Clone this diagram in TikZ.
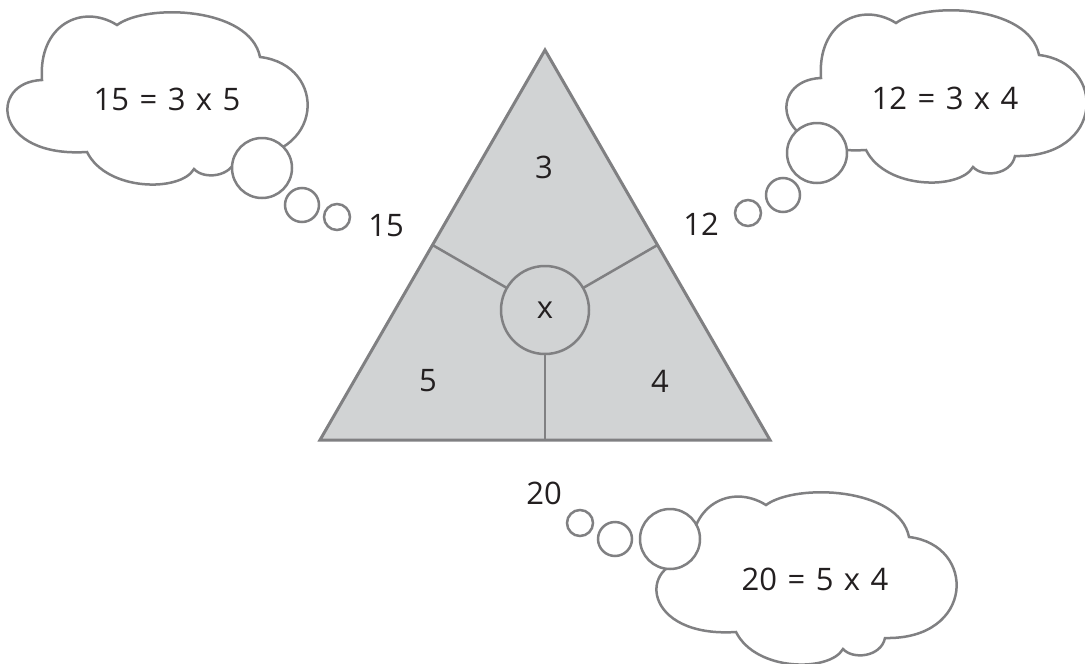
\documentclass[tikz,border=0pt]{standalone}
\usepackage{fontspec}
\setmainfont{Open Sans}[WordSpace=1.3]
\usepackage{tikz}
\usetikzlibrary{calc}
\usepackage{xcolor}
\definecolor{edgegray}{RGB}{128,128,130}
\definecolor{facegray}{RGB}{209,211,212}
\definecolor{inkgray}{RGB}{35,31,32}
\tikzset{
    tri-face/.style = {draw=edgegray, fill=facegray, line width=3pt, line join=miter},
    tri-split/.style = {draw=edgegray, line width=2.5pt},
    cloud-line/.style = {draw=edgegray, fill=white, line width=2.5pt},
    bubble/.style = {circle, draw=edgegray, fill=white, line width=2.5pt, inner sep=0pt},
    num-text/.style = {text=inkgray, font=\fontsize{31}{36}\selectfont, inner sep=0pt},
    pics/thought-cloud/.style = {code={
        \draw[cloud-line] (34,70) .. controls (30,15) and (74,-7) .. (109,15)
            .. controls (139,-7) and (242,-3) .. (252,47)
            .. controls (320,55) and (318,150) .. (228,148)
            .. controls (224,167) and (196,170) .. (186,159)
            .. controls (173,182) and (99,182) .. (79,142)
            .. controls (-15,148) and (-20,72) .. (34,70) -- cycle;
    }},
}

\begin{document}
\begin{tikzpicture}[x=1pt, y=-1pt]
\useasboundingbox (0,0) rectangle (1085,664);

% triangle with its three parts
\coordinate (top) at (545,50);
\coordinate (base-left) at (320,440);
\coordinate (base-right) at (770,440);
\draw[tri-face] (top) -- (base-right) -- (base-left) -- cycle;
\coordinate (mid-left) at ($(top)!0.5!(base-left)$);
\coordinate (mid-right) at ($(top)!0.5!(base-right)$);
\coordinate (mid-base) at ($(base-left)!0.5!(base-right)$);
\coordinate (centre) at (545,310);
\draw[tri-split] (mid-left) -- (centre);
\draw[tri-split] (mid-right) -- (centre);
\draw[tri-split] (mid-base) -- (centre);
\node[bubble, fill=facegray, minimum size=88pt, num-text] (hub) at (centre) {x};

\node[num-text] (f-top) at (544,167) {3};
\node[num-text] (f-left) at (428,381) {5};
\node[num-text] (f-right) at (660,381) {4};

% products on the sides
\node[num-text] (p-left) at (386,226) {15};
\node[num-text] (p-right) at (701,224) {12};
\node[num-text] (p-base) at (544,493) {20};

% thought clouds
\pic at (8,10) {thought-cloud};
\node[num-text] (c-left) at (167,99) {15 = 3 x 5};
\node[bubble, minimum size=60pt] (b-left-1) at (262,168) {};
\node[bubble, minimum size=34pt] (b-left-2) at (302,205) {};
\node[bubble, minimum size=26pt] (b-left-3) at (337,217) {};

\pic at (787,8) {thought-cloud};
\node[num-text] (c-right) at (945,98) {12 = 3 x 4};
\node[bubble, minimum size=60pt] (b-right-1) at (817,153) {};
\node[bubble, minimum size=34pt] (b-right-2) at (783,195) {};
\node[bubble, minimum size=26pt] (b-right-3) at (748,213) {};

\pic at (657,490) {thought-cloud};
\node[num-text] (c-base) at (815,579) {20 = 5 x 4};
\node[bubble, minimum size=60pt] (b-base-1) at (670,539) {};
\node[bubble, minimum size=34pt] (b-base-2) at (615,539) {};
\node[bubble, minimum size=26pt] (b-base-3) at (580,523) {};
\end{tikzpicture}
\end{document}
